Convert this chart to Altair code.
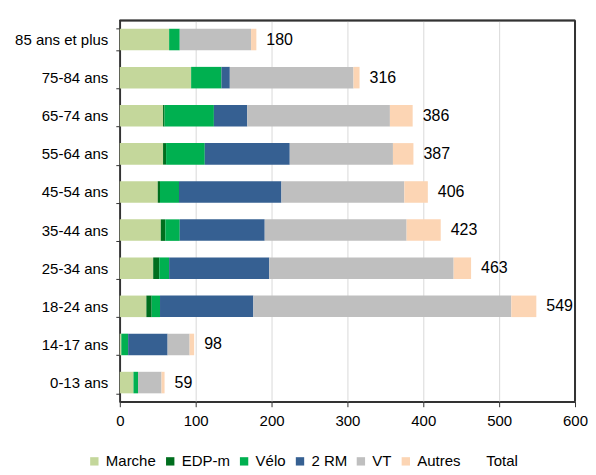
import altair as alt
import pandas as pd

ages = ["85 ans et plus", "75-84 ans", "65-74 ans", "55-64 ans", "45-54 ans",
        "35-44 ans", "25-34 ans", "18-24 ans", "14-17 ans", "0-13 ans"]
modes = ["Marche", "EDP-m", "Vélo", "2 RM", "VT", "Autres"]
marche = [65, 94, 57, 57, 50, 54, 44, 35, 2, 18]
edpm = [0, 0, 2, 4, 3, 6, 8, 7, 0, 0]
velo = [14, 40, 65, 51, 25, 19, 13, 11, 9, 6]
rm2 = [0, 11, 44, 112, 135, 112, 132, 123, 52, 0]
vt = [94, 163, 188, 136, 162, 187, 243, 340, 29, 31]
autres = [7, 8, 30, 27, 31, 45, 23, 33, 6, 4]
totals = [180, 316, 386, 387, 406, 423, 463, 549, 98, 59]

colors = ["#C4D79B", "#006E1E", "#00B050", "#366092", "#BFBFBF", "#FCD5B4", "rgba(0,0,0,0)"]

series = [marche, edpm, velo, rm2, vt, autres]
rows = []
for mi, (m, vals) in enumerate(zip(modes, series)):
    for a, v in zip(ages, vals):
        rows.append({"age": a, "mode": m, "value": v, "ord": mi})
df = pd.DataFrame(rows)
tdf = pd.DataFrame({"age": ages, "total": totals})

font = "Liberation Sans"
W, H = 456, 382

y_enc = alt.Y("age:N", sort=ages, title=None,
              scale=alt.Scale(paddingInner=0.435, paddingOuter=0.22),
              axis=alt.Axis(labelFontSize=15, labelFont=font, labelColor="#000",
                            labelPadding=8, tickBand="extent", tickSize=4,
                            tickColor="#333", domainColor="#333", domainWidth=1.5,
                            minExtent=112, maxExtent=112, grid=False))

bars = alt.Chart(df).mark_bar().encode(
    y=y_enc,
    x=alt.X("value:Q", stack="zero", title=None,
            scale=alt.Scale(domain=[0, 600], nice=False),
            axis=alt.Axis(values=[0, 100, 200, 300, 400, 500, 600], labelFontSize=15,
                          labelFont=font, labelColor="#000", tickSize=5, tickColor="#333",
                          domainColor="#333", domainWidth=1.5, labelPadding=7,
                          grid=True, gridColor="#D9D9D9", labelFlush=False)),
    color=alt.Color("mode:N",
                    scale=alt.Scale(domain=modes + ["Total"], range=colors),
                    legend=alt.Legend(orient="none", legendX=-33, legendY=434,
                                      direction="horizontal", title=None,
                                      symbolType="square", symbolSize=70, symbolStrokeWidth=0,
                                      labelFontSize=15, labelFont=font, labelColor="#000",
                                      labelOffset=4, columnPadding=6)),
    order=alt.Order("ord:Q"),
)

labels = alt.Chart(tdf).mark_text(align="left", baseline="middle", dx=10,
                                   fontSize=16, font=font, color="#000").encode(
    y=alt.Y("age:N", sort=ages),
    x=alt.X("total:Q"),
    text=alt.Text("total:Q"),
)

frame_df = pd.DataFrame({"x0": [0], "x1": [600]})
top_rule = alt.Chart(frame_df).mark_rule(color="#333333", strokeWidth=2).encode(
    x=alt.X("x0:Q"), x2=alt.X2("x1:Q"), y=alt.value(0))
right_rule = alt.Chart(frame_df).mark_rule(color="#333333", strokeWidth=2).encode(
    x=alt.X("x1:Q"), y=alt.value(0), y2=alt.value(H))

chart = (bars + labels + top_rule + right_rule).properties(
    width=W, height=H,
    padding={"left": 0, "top": 5, "right": 0, "bottom": 0},
).configure_view(stroke="#333333", strokeWidth=1.5)

chart.save("out.html", embed_options={"renderer": "svg", "actions": False})
